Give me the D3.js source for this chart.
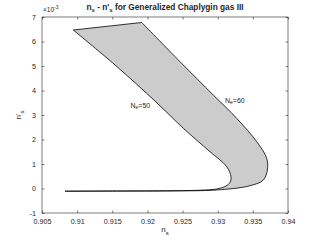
<!DOCTYPE html>
<html>
<head>
<meta charset="utf-8">
<script src="https://cdn.jsdelivr.net/npm/d3@7"></script>
<style>
body { margin: 0; background: #fff; }
text { font-family: "Liberation Sans", Arial, sans-serif; fill: #262626; }
</style>
</head>
<body>
<svg id="chart"></svg>
<script>
// curve for N_e = 50 (from bottom-left end up to the top), n's in units of 1e-3
var ne50_ns  = [0.90827, 0.9161, 0.92321, 0.92748, 0.92986, 0.93118, 0.93175, 0.93189, 0.93128, 0.92890, 0.92511, 0.92122, 0.91539, 0.90945];
var ne50_nsp = [-0.110, -0.102, -0.094, -0.069, -0.020, 0.102, 0.253, 0.482, 0.890, 1.502, 2.457, 3.531, 5.041, 6.469];
// curve for N_e = 60
var ne60_ns  = [0.90827, 0.9161, 0.92321, 0.92986, 0.9346, 0.93649, 0.93706, 0.93697, 0.93555, 0.93270, 0.92937, 0.92464, 0.91919];
var ne60_nsp = [-0.110, -0.104, -0.098, -0.061, 0.114, 0.347, 0.755, 1.233, 1.910, 2.865, 3.816, 5.176, 6.776];

var xTicks = [0.905, 0.91, 0.915, 0.92, 0.925, 0.93, 0.935, 0.94];
var xTickLabels = ["0.905", "0.91", "0.915", "0.92", "0.925", "0.93", "0.935", "0.94"];
var yTicks = [-1, 0, 1, 2, 3, 4, 5, 6, 7];

var width = 321;
var height = 241;
var plotLeft = 42, plotRight = 288, plotTop = 17, plotBottom = 213;

var svg = d3.select("#chart")
    .attr("width", width)
    .attr("height", height);

var xScale = d3.scaleLinear()
    .domain([0.905, 0.94])
    .range([plotLeft, plotRight]);
var yScale = d3.scaleLinear()
    .domain([-1, 7])
    .range([plotBottom, plotTop]);

var pts50 = ne50_ns.map(function (d, i) { return [d, ne50_nsp[i]]; });
var pts60 = ne60_ns.map(function (d, i) { return [d, ne60_nsp[i]]; });

var line = d3.line()
    .x(function (d) { return xScale(d[0]); })
    .y(function (d) { return yScale(d[1]); })
    .curve(d3.curveCatmullRom.alpha(0.5));

// shaded band between the two curves
var bandPath = line(pts50) + line(pts60.slice().reverse()).replace(/^M/, "L") + "Z";
svg.append("path")
    .attr("d", bandPath)
    .attr("fill", "#cccccc")
    .attr("stroke", "#000")
    .attr("stroke-width", 0.8)
    .attr("stroke-linejoin", "round");

// axes, MATLAB style with inward ticks on all sides
var tick = 2.5;
function drawAxis(axis, tx, ty) {
    var g = svg.append("g")
        .attr("transform", "translate(" + tx + "," + ty + ")")
        .call(axis);
    g.select(".domain").remove();
    g.selectAll("line").attr("stroke", "#262626").attr("stroke-width", 0.6);
    g.selectAll("text").attr("fill", "#262626").style("font-size", "7.2px")
        .style("font-family", '"Liberation Sans", Arial, sans-serif');
    return g;
}
var xAxis = d3.axisBottom(xScale).tickValues(xTicks)
    .tickFormat(function (d, i) { return xTickLabels[i]; })
    .tickSizeInner(-tick).tickSizeOuter(0).tickPadding(5.5);
drawAxis(xAxis, 0, plotBottom);
drawAxis(d3.axisTop(xScale).tickValues(xTicks).tickFormat("").tickSizeInner(-tick).tickSizeOuter(0), 0, plotTop);
var yAxis = d3.axisLeft(yScale).tickValues(yTicks)
    .tickFormat(function (d) { return d; })
    .tickSizeInner(-tick).tickSizeOuter(0).tickPadding(6);
drawAxis(yAxis, plotLeft, 0);
drawAxis(d3.axisRight(yScale).tickValues(yTicks).tickFormat("").tickSizeInner(-tick).tickSizeOuter(0), plotRight, 0);

svg.append("rect")
    .attr("x", plotLeft).attr("y", plotTop)
    .attr("width", plotRight - plotLeft).attr("height", plotBottom - plotTop)
    .attr("fill", "none")
    .attr("stroke", "#262626")
    .attr("stroke-width", 0.6);

// exponent label
var expo = svg.append("text").attr("x", plotLeft + 1).attr("y", 12).style("font-size", "6.5px");
expo.append("tspan").text("\u00d710");
expo.append("tspan").attr("dy", -3).style("font-size", "5px").text("-3");

// title
var title = svg.append("text")
    .attr("x", (plotLeft + plotRight) / 2).attr("y", 10)
    .attr("text-anchor", "middle")
    .style("font-size", "8.3px").style("font-weight", "bold");
title.append("tspan").text("n");
title.append("tspan").attr("dy", 2).style("font-size", "6px").text("s");
title.append("tspan").attr("dy", -2).text(" - n'");
title.append("tspan").attr("dy", 2).style("font-size", "6px").text("s");
title.append("tspan").attr("dy", -2).text(" for Generalized Chaplygin gas III");

// axis labels
var xl = svg.append("text").attr("x", (plotLeft + plotRight) / 2).attr("y", 232)
    .attr("text-anchor", "middle").style("font-size", "8px");
xl.append("tspan").text("n");
xl.append("tspan").attr("dy", 2.5).style("font-size", "6px").text("s");

var yl = svg.append("text")
    .attr("transform", "translate(21," + ((plotTop + plotBottom) / 2) + ") rotate(-90)")
    .attr("text-anchor", "middle").style("font-size", "8px");
yl.append("tspan").text("n'");
yl.append("tspan").attr("dy", 2.5).style("font-size", "6px").text("s");

// curve annotations
function neLabel(x, y, val) {
    var t = svg.append("text").attr("x", x).attr("y", y).style("font-size", "7px");
    t.append("tspan").text("N");
    t.append("tspan").attr("dy", 1.8).style("font-size", "5px").text("e");
    t.append("tspan").attr("dy", -1.8).text("=" + val);
}
neLabel(130.5, 107.5, 50);
neLabel(225, 102.5, 60);
</script>
</body>
</html>
